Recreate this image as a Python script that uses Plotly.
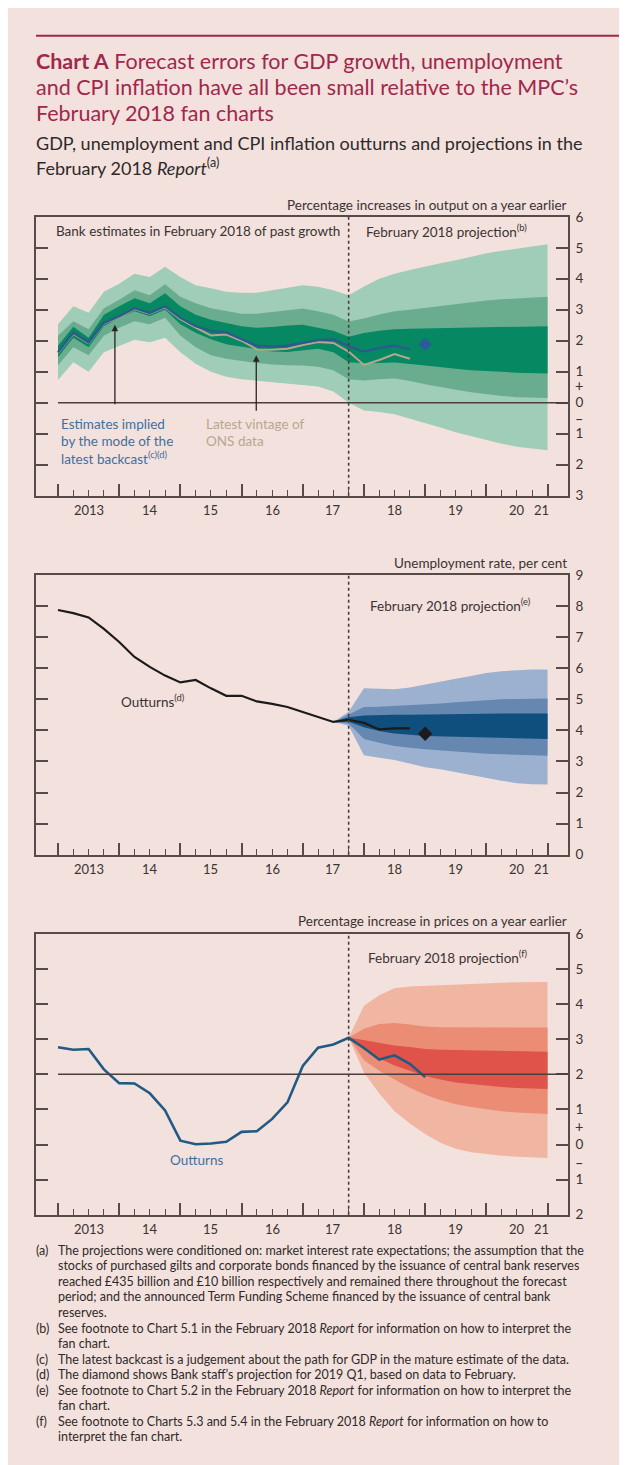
import plotly.graph_objects as go

W, H = 627, 1465
BG = '#f3e1dd'
FONT = 'Lato'
TXT = '#3a3333'
FRAME = '#574a48'
CRIMSON = '#a0284c'

# ---------------- data ----------------
def quarters(start_year, start_q, n):
    out, y, q = [], start_year, start_q
    for _ in range(n):
        out.append(f"{y} Q{q}")
        q += 1
        if q == 5:
            q, y = 1, y + 1
    return out

def qx(label):
    y, q = label.split(' Q')
    return int(y) + (int(q) - 1) / 4

# GDP (panel 1)
gdp_q = quarters(2013, 1, 24)
gdp_backcast = [1.63, 2.26, 1.95, 2.58, 2.79, 3.05, 2.90, 3.11, 2.74, 2.47, 2.32, 2.27,
                2.05, 1.84, 1.81, 1.84, 1.93, 2.02, 2.04, 1.83, 1.65, 1.77, 1.84, 1.73]
gdp_ons = [1.60, 2.22, 1.92, 2.55, 2.76, 3.02, 2.87, 3.08, 2.70, 2.42, 2.17, 2.20,
           2.00, 1.72, 1.71, 1.74, 1.86, 1.96, 1.93, 1.65, 1.22, 1.38, 1.57, 1.42]
gdp_diamond_q = "2019 Q1"
gdp_diamond = 1.89
gdp_fan_q = quarters(2013, 1, 33)
gdp_outer_hi = [2.53, 3.11, 2.90, 3.58, 3.84, 4.16, 4.06, 4.39, 4.06, 3.79, 3.69, 3.58, 3.55, 3.55,
                3.63, 3.72, 3.79, 3.74, 3.63, 3.47, 3.75, 4.00, 4.16, 4.28, 4.40, 4.50, 4.60, 4.72,
                4.82, 4.90, 4.97, 5.05, 5.11]
gdp_mid_hi = [2.16, 2.63, 2.37, 3.05, 3.32, 3.63, 3.47, 3.82, 3.42, 3.21, 3.05, 2.95, 2.87, 2.87,
              2.92, 2.99, 3.04, 2.95, 2.84, 2.62, 2.72, 2.85, 2.95, 3.00, 3.06, 3.13, 3.18, 3.25,
              3.30, 3.34, 3.37, 3.40, 3.42]
gdp_dark_hi = [1.84, 2.45, 2.10, 2.84, 3.11, 3.37, 3.21, 3.53, 3.11, 2.84, 2.68, 2.58, 2.47, 2.42,
               2.44, 2.49, 2.52, 2.42, 2.32, 2.13, 2.25, 2.32, 2.37, 2.39, 2.40, 2.42, 2.43, 2.44,
               2.45, 2.46, 2.46, 2.47, 2.47]
gdp_dark_lo = [1.47, 2.10, 1.79, 2.47, 2.74, 2.95, 2.79, 3.00, 2.53, 2.26, 2.05, 1.89, 1.82, 1.73,
               1.65, 1.64, 1.69, 1.74, 1.63, 1.31, 1.27, 1.28, 1.30, 1.25, 1.20, 1.14, 1.10, 1.05,
               1.02, 1.00, 0.97, 0.95, 0.94]
gdp_mid_lo = [1.21, 1.79, 1.53, 2.16, 2.42, 2.63, 2.53, 2.74, 2.16, 1.79, 1.53, 1.42, 1.34, 1.28,
              1.23, 1.21, 1.20, 1.16, 1.05, 0.76, 0.72, 0.76, 0.78, 0.70, 0.60, 0.50, 0.42, 0.34,
              0.27, 0.22, 0.18, 0.16, 0.15]
gdp_outer_lo = [0.73, 1.31, 1.00, 1.63, 1.84, 2.03, 1.95, 2.10, 1.63, 1.26, 1.00, 0.84, 0.76, 0.70,
                0.66, 0.61, 0.57, 0.52, 0.36, 0.00, -0.25, -0.30, -0.37, -0.50, -0.65, -0.80, -0.95,
                -1.08, -1.20, -1.32, -1.42, -1.48, -1.53]
gdp_ref_level = 0

# Unemployment (panel 2)
ue_q = quarters(2013, 1, 24)
ue_outturn = [7.87, 7.77, 7.63, 7.26, 6.84, 6.36, 6.04, 5.76, 5.54, 5.62, 5.35, 5.11,
              5.11, 4.93, 4.85, 4.75, 4.59, 4.43, 4.27, 4.34, 4.24, 4.03, 4.06, 4.06]
ue_diamond_q = "2019 Q1"
ue_diamond = 3.89
ue_fan_q = quarters(2017, 3, 15)
ue_outer_hi = [4.27, 4.60, 5.35, 5.33, 5.32, 5.38, 5.48, 5.56, 5.66, 5.75, 5.84, 5.90, 5.94, 5.96, 5.96]
ue_mid_hi = [4.27, 4.50, 4.75, 4.76, 4.78, 4.80, 4.83, 4.86, 4.90, 4.94, 4.97, 5.00, 5.01, 5.02, 5.02]
ue_dark_hi = [4.27, 4.42, 4.48, 4.50, 4.50, 4.50, 4.51, 4.52, 4.52, 4.53, 4.53, 4.54, 4.54, 4.54, 4.54]
ue_dark_lo = [4.27, 4.28, 4.10, 3.98, 3.90, 3.86, 3.82, 3.80, 3.78, 3.77, 3.76, 3.75, 3.74, 3.73, 3.72]
ue_mid_lo = [4.27, 4.22, 3.72, 3.60, 3.50, 3.44, 3.39, 3.35, 3.32, 3.28, 3.25, 3.23, 3.21, 3.19, 3.18]
ue_outer_lo = [4.27, 4.15, 3.20, 3.12, 3.05, 2.93, 2.81, 2.75, 2.66, 2.57, 2.47, 2.38, 2.30, 2.27, 2.26]

# CPI inflation (panel 3)
cpi_q = quarters(2013, 1, 25)
cpi_outturn = [2.77, 2.70, 2.72, 2.14, 1.75, 1.74, 1.46, 0.97, 0.11, 0.01, 0.03, 0.08, 0.36,
               0.38, 0.73, 1.20, 2.24, 2.76, 2.85, 3.04, 2.75, 2.42, 2.54, 2.30, 1.92]
cpi_fan_q = quarters(2017, 4, 14)
cpi_outer_hi = [3.05, 3.95, 4.25, 4.45, 4.50, 4.52, 4.54, 4.57, 4.59, 4.60, 4.61, 4.62, 4.63, 4.63]
cpi_mid_hi = [3.05, 3.30, 3.43, 3.46, 3.42, 3.36, 3.34, 3.34, 3.35, 3.35, 3.34, 3.34, 3.34, 3.33]
cpi_dark_hi = [3.05, 2.98, 2.90, 2.82, 2.78, 2.72, 2.70, 2.69, 2.68, 2.67, 2.66, 2.65, 2.64, 2.64]
cpi_dark_lo = [3.05, 2.70, 2.45, 2.25, 2.10, 1.95, 1.85, 1.77, 1.72, 1.68, 1.64, 1.61, 1.59, 1.58]
cpi_mid_lo = [3.05, 2.40, 2.10, 1.85, 1.62, 1.42, 1.27, 1.15, 1.07, 1.00, 0.95, 0.91, 0.88, 0.87]
cpi_outer_lo = [3.05, 2.05, 1.45, 0.95, 0.60, 0.30, 0.05, -0.12, -0.22, -0.28, -0.32, -0.35, -0.37, -0.38]
cpi_target = 2

projection_start_q = "2017 Q4"

# axis tick labels
x_major_years = [2013, 2014, 2015, 2016, 2017, 2018, 2019, 2020, 2021]
x_tick_labels = ['2013', '14', '15', '16', '17', '18', '19', '20', '21']
y1_vals = [-3, -2, -1, 0, 1, 2, 3, 4, 5, 6]
y1_text = ['3', '2', '1', '0', '1', '2', '3', '4', '5', '6']
y2_vals = [0, 1, 2, 3, 4, 5, 6, 7, 8, 9]
y2_text = [str(v) for v in y2_vals]
y3_vals = [-2, -1, 0, 1, 2, 3, 4, 5, 6]
y3_text = ['2', '1', '0', '1', '2', '3', '4', '5', '6']

# ---------------- layout helpers ----------------
def pxx(px):
    return px / W

def pxy(py):
    return 1 - py / H

def ax(i):
    return '' if i == 1 else str(i)

X_LEFT, X_RIGHT = 28, 560
YEAR0_PX, PX_PER_YEAR = 50, 61.19
X_RANGE = [2013 + (X_LEFT - YEAR0_PX) / PX_PER_YEAR, 2013 + (X_RIGHT - YEAR0_PX) / PX_PER_YEAR]
panels = {1: (203, 485, [-3, 6], y1_vals, y1_text),
          2: (565, 848, [0, 9], y2_vals, y2_text),
          3: (928, 1212, [-2, 6], y3_vals, y3_text)}

fig = go.Figure()

def fan(xq, bands, colors, i):
    xs = [qx(q) for q in xq]
    for (lo, hi), col in zip(bands, colors):
        fig.add_trace(go.Scatter(x=xs + xs[::-1], y=hi + lo[::-1], fill='toself',
                                 fillcolor=col, line=dict(width=0), mode='lines',
                                 hoverinfo='skip', showlegend=False,
                                 xaxis='x' + ax(i), yaxis='y' + ax(i)))

def line(xq, ys, color, width, i):
    fig.add_trace(go.Scatter(x=[qx(q) for q in xq], y=ys, mode='lines',
                             line=dict(color=color, width=width), showlegend=False,
                             hoverinfo='skip', xaxis='x' + ax(i), yaxis='y' + ax(i)))

def diamond(q, v, color, size, i):
    fig.add_trace(go.Scatter(x=[qx(q)], y=[v], mode='markers',
                             marker=dict(symbol='diamond', size=size, color=color),
                             showlegend=False, hoverinfo='skip',
                             xaxis='x' + ax(i), yaxis='y' + ax(i)))

# Panel 1
fan(gdp_fan_q, [(gdp_outer_lo, gdp_outer_hi), (gdp_mid_lo, gdp_mid_hi), (gdp_dark_lo, gdp_dark_hi)],
    ['#a0cdb7', '#6aad8e', '#068862'], 1)
line(gdp_q, gdp_ons, '#b8a58d', 2, 1)
line(gdp_q, gdp_backcast, '#2b5b8c', 2.4, 1)
diamond(gdp_diamond_q, gdp_diamond, '#2b5b9c', 10, 1)

# Panel 2
fan(ue_fan_q, [(ue_outer_lo, ue_outer_hi), (ue_mid_lo, ue_mid_hi), (ue_dark_lo, ue_dark_hi)],
    ['#9bb1cf', '#6587b0', '#0e4f7e'], 2)
line(ue_q, ue_outturn, '#1c1a1a', 2.2, 2)
diamond(ue_diamond_q, ue_diamond, '#1c1a1a', 11, 2)

# Panel 3
fan(cpi_fan_q, [(cpi_outer_lo, cpi_outer_hi), (cpi_mid_lo, cpi_mid_hi), (cpi_dark_lo, cpi_dark_hi)],
    ['#f1b6a1', '#eb8c74', '#e0534a'], 3)
line(cpi_q, cpi_outturn, '#215a82', 2.6, 3)

# axes
minor_vals = [qx(q) for q in quarters(2013, 1, 33) if not q.endswith('Q1')]
layout_axes = {}
for i, (top, bot, yr, tv, tt) in panels.items():
    layout_axes['xaxis' + ax(i)] = dict(
        domain=[pxx(X_LEFT), pxx(X_RIGHT)], range=X_RANGE, anchor='y' + ax(i),
        tickmode='array', tickvals=x_major_years, ticks='inside', ticklen=12,
        tickcolor=FRAME, tickwidth=1.5, showticklabels=False,
        minor=dict(tickmode='array', tickvals=minor_vals, ticks='inside', ticklen=6,
                   tickcolor=FRAME, tickwidth=1.2),
        showline=True, linecolor=FRAME, linewidth=1.6, mirror=True,
        showgrid=False, zeroline=False, fixedrange=True)
    layout_axes['yaxis' + ax(i)] = dict(
        domain=[pxy(bot), pxy(top)], range=yr, anchor='x' + ax(i), side='right',
        tickmode='array', tickvals=tv, ticktext=tt, ticks='inside', ticklen=12,
        tickcolor=FRAME, tickwidth=1.5, mirror='ticks', showline=True,
        linecolor=FRAME, linewidth=1.6, showgrid=False, zeroline=False,
        tickfont=dict(family=FONT, size=13.5, color=TXT), ticklabelstandoff=3, fixedrange=True)

shapes = []
for i in panels:
    shapes.append(dict(type='line', xref='x' + ax(i), yref='y' + ax(i) + ' domain',
                       x0=qx(projection_start_q), x1=qx(projection_start_q), y0=0, y1=1,
                       line=dict(color='#4a3f3d', width=1.6, dash='3px,3px'), layer='above'))
shapes.append(dict(type='line', xref='x', yref='y', x0=qx(gdp_q[0]), x1=X_RANGE[1],
                   y0=gdp_ref_level, y1=gdp_ref_level, line=dict(color='#4a3f3d', width=1.5),
                   layer='above'))
shapes.append(dict(type='line', xref='x3', yref='y3', x0=qx(cpi_q[0]), x1=X_RANGE[1],
                   y0=cpi_target, y1=cpi_target, line=dict(color='#4a3f3d', width=1.5),
                   layer='above'))
# top rule
shapes.append(dict(type='line', xref='paper', yref='paper', x0=pxx(28), x1=1.0,
                   y0=pxy(20), y1=pxy(20), line=dict(color=CRIMSON, width=2)))

ann = []

def text(px, py, s, size=13.5, color=TXT, xanchor='left', **kw):
    ann.append(dict(x=pxx(px), y=pxy(py), xref='paper', yref='paper', text=s, showarrow=False,
                    xanchor=xanchor, yanchor='middle', borderpad=0,
                    font=dict(family=FONT, size=size, color=color), **kw))

# title block
text(27, 45, '<b>Chart A</b> Forecast errors for GDP growth, unemployment', 21.5, CRIMSON)
text(27, 72, 'and CPI inflation have all been small relative to the MPC’s', 21.5, CRIMSON)
text(27, 98, 'February 2018 fan charts', 21.5, CRIMSON)
text(27, 128, 'GDP, unemployment and CPI inflation outturns and projections in the', 18, '#2e2a2a')
text(27, 153, 'February 2018 <i>Report</i><sup>(a)</sup>', 18, '#2e2a2a')

# x tick labels (centred in each year; last label squeezed before the edge)
for i, (top, bot, yr, tv, tt) in panels.items():
    for k, lab in enumerate(x_tick_labels):
        xpos = x_major_years[k] + 0.5 if k < len(x_tick_labels) - 1 else x_major_years[k] - 0.1
        ann.append(dict(x=xpos, xref='x' + ax(i), y=pxy(bot + 14), yref='paper', text=lab,
                        showarrow=False, xanchor='center', yanchor='middle',
                        font=dict(family=FONT, size=13, color=TXT)))

# plus/minus signs on right axes
for axis, plus, minus in (('y', 0.55, -0.5), ('y3', 0.5, -0.5)):
    for v, s in ((plus, '+'), (minus, '–')):
        ann.append(dict(x=pxx(571), xref='paper', y=v, yref=axis, text=s, showarrow=False,
                        xanchor='center', yanchor='middle',
                        font=dict(family=FONT, size=14.5, color=TXT)))

# panel texts
text(560, 191, 'Percentage increases in output on a year earlier', xanchor='right')
text(47, 217, 'Bank estimates in February 2018 of past growth')
text(357, 217, 'February 2018 projection<sup>(b)</sup>')
BLUE_TXT = '#3f6f9e'
TAN_TXT = '#b9a68f'
text(52, 413, 'Estimates implied', color=BLUE_TXT)
text(52, 430, 'by the mode of the', color=BLUE_TXT)
text(52, 447, 'latest backcast<sup>(c)(d)</sup>', color=BLUE_TXT)
text(197, 413, 'Latest vintage of', color=TAN_TXT)
text(197, 430, 'ONS data', color=TAN_TXT)

ann.append(dict(x=2013.93, y=2.52, xref='x', yref='y', ax=0, ay=81, text='', showarrow=True,
                arrowhead=2, arrowsize=1, arrowwidth=1.3, arrowcolor='#2a2424', standoff=0))
ann.append(dict(x=2016.24, y=1.53, xref='x', yref='y', ax=0, ay=57, text='', showarrow=True,
                arrowhead=2, arrowsize=1, arrowwidth=1.3, arrowcolor='#2a2424', standoff=0))

text(560, 553, 'Unemployment rate, per cent', xanchor='right')
text(361, 595, 'February 2018 projection<sup>(e)</sup>')
text(112, 693, 'Outturns<sup>(d)</sup>')

text(560, 915, 'Percentage increase in prices on a year earlier', xanchor='right')
text(359, 951, 'February 2018 projection<sup>(f)</sup>')
text(161, 1157, 'Outturns', color=BLUE_TXT)

# footnotes
notes = [
    ('(a)', ['The projections were conditioned on: market interest rate expectations; the assumption that the',
             'stocks of purchased gilts and corporate bonds financed by the issuance of central bank reserves',
             'reached £435 billion and £10 billion respectively and remained there throughout the forecast',
             'period; and the announced Term Funding Scheme financed by the issuance of central bank',
             'reserves.']),
    ('(b)', ['See footnote to Chart 5.1 in the February 2018 <i>Report</i> for information on how to interpret the',
             'fan chart.']),
    ('(c)', ['The latest backcast is a judgement about the path for GDP in the mature estimate of the data.']),
    ('(d)', ['The diamond shows Bank staff’s projection for 2019 Q1, based on data to February.']),
    ('(e)', ['See footnote to Chart 5.2 in the February 2018 <i>Report</i> for information on how to interpret the',
             'fan chart.']),
    ('(f)', ['See footnote to Charts 5.3 and 5.4 in the February 2018 <i>Report</i> for information on how to',
             'interpret the fan chart.']),
]
line_y = 1248
for tag, lines in notes:
    text(27, line_y, tag, 12.5, '#2e2a2a')
    for ln in lines:
        text(49, line_y, ln, 12.5, '#2e2a2a')
        line_y += 15.7

fig.update_layout(width=W, height=H, margin=dict(l=0, r=0, t=0, b=0),
                  paper_bgcolor=BG, plot_bgcolor=BG, showlegend=False,
                  shapes=shapes, annotations=ann, **layout_axes)
fig.write_html('out.html')
